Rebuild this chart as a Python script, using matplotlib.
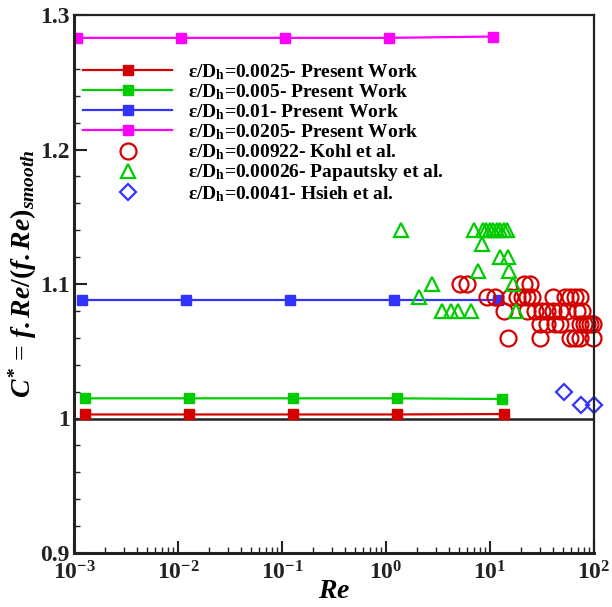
import matplotlib
matplotlib.use('Agg')
import matplotlib.pyplot as plt
from matplotlib.ticker import FixedLocator, FixedFormatter, MultipleLocator, LogLocator, NullFormatter

plt.rcParams['font.family'] = 'Liberation Serif'
plt.rcParams['font.weight'] = 'bold'
plt.rcParams['mathtext.fontset'] = 'custom'
plt.rcParams['mathtext.rm'] = 'Liberation Serif:bold'
plt.rcParams['mathtext.it'] = 'Liberation Serif:bold:italic'
plt.rcParams['mathtext.bf'] = 'Liberation Serif:bold'

# Present work (simulations)
re_red = [0.00127, 0.0127, 0.127, 1.27, 13.5]
c_red = [1.003, 1.003, 1.003, 1.003, 1.0033]
re_green = [0.00127, 0.0127, 0.127, 1.27, 13.0]
c_green = [1.015, 1.015, 1.015, 1.015, 1.0145]
re_blue = [0.0012, 0.012, 0.12, 1.2, 11.9]
c_blue = [1.088, 1.088, 1.088, 1.088, 1.088]
re_mag = [0.00107, 0.0107, 0.107, 1.07, 10.7]
c_mag = [1.283, 1.283, 1.283, 1.283, 1.284]

# Kohl et al.
re_kohl = [5.1, 6.0, 21, 24.5,
           9.3, 11.1, 15.6, 18.0, 20.2, 22.5, 25.3, 40, 52.7, 59, 66, 74,
           13.6, 22.5, 27, 31.4, 35.1, 40.6, 47.1, 54.6, 68.1, 76.2,
           30.3, 35.1, 42.2, 47.1, 73.3, 80, 85, 92, 98.5,
           14.8, 30.3, 58.7, 65.6, 73.3, 98]
c_kohl = [1.10] * 4 + [1.09] * 12 + [1.08] * 10 + [1.07] * 9 + [1.06] * 6

# Papautsky et al.
re_pap = [1.38, 6.97, 8.6, 9.2, 10.0, 10.8, 11.7, 12.6, 13.5, 14.6,
          8.4, 12.5, 14.8, 7.67, 15.3, 2.75, 16.5, 2.07,
          3.45, 4.19, 4.96, 6.52, 17.8]
c_pap = [1.14] * 10 + [1.13, 1.12, 1.12, 1.11, 1.11, 1.10, 1.10, 1.09,
                       1.08, 1.08, 1.08, 1.08, 1.08]

# Hsieh et al.
re_hsieh = [51.9, 75, 100]
c_hsieh = [1.02, 1.01, 1.01]

x_ticks = [1e-3, 1e-2, 1e-1, 1e0, 1e1, 1e2]
x_labels = [r'$\mathrm{10^{-3}}$', r'$\mathrm{10^{-2}}$', r'$\mathrm{10^{-1}}$',
            r'$\mathrm{10^{0}}$', r'$\mathrm{10^{1}}$', r'$\mathrm{10^{2}}$']
y_ticks = [0.9, 1.0, 1.1, 1.2, 1.3]
y_labels = ['0.9', '1', '1.1', '1.2', '1.3']

fig = plt.figure(figsize=(6.12, 6.07), dpi=100)
ax = fig.add_axes([74 / 612, 1 - 553 / 607, 520 / 612, 538 / 607])

ax.axhline(1.0, color='#222222', lw=1.8, zorder=1)

ms = 7.5
ax.plot(re_red, c_red, '-s', color='#d40000', lw=1.6, ms=ms, label=r'ε/D$_{\mathrm{h}}$=0.0025- Present Work')
ax.plot(re_green, c_green, '-s', color='#00cc00', lw=1.6, ms=ms, label=r'ε/D$_{\mathrm{h}}$=0.005- Present Work')
ax.plot(re_blue, c_blue, '-s', color='#3333ff', lw=1.6, ms=ms, label=r'ε/D$_{\mathrm{h}}$=0.01- Present Work')
ax.plot(re_mag, c_mag, '-s', color='#ff00ff', lw=1.6, ms=ms, label=r'ε/D$_{\mathrm{h}}$=0.0205- Present Work')
ax.plot(re_kohl, c_kohl, 'o', mfc='none', mec='#d40000', mew=1.6, ms=11.5, clip_on=False,
        label=r'ε/D$_{\mathrm{h}}$=0.00922- Kohl et al.')
ax.plot(re_pap, c_pap, '^', mfc='none', mec='#00cc00', mew=1.6, ms=10, clip_on=False,
        label=r'ε/D$_{\mathrm{h}}$=0.00026- Papautsky et al.')
ax.plot(re_hsieh, c_hsieh, 'D', mfc='none', mec='#3333ff', mew=1.6, ms=8.5, clip_on=False,
        label=r'ε/D$_{\mathrm{h}}$=0.0041- Hsieh et al.')

ax.set_xscale('log')
ax.set_xlim(1e-3, 1e2)
ax.set_ylim(0.9, 1.3)
ax.xaxis.set_major_locator(FixedLocator(x_ticks))
ax.xaxis.set_major_formatter(FixedFormatter(x_labels))
ax.xaxis.set_minor_locator(LogLocator(base=10, subs=range(2, 10), numticks=20))
ax.xaxis.set_minor_formatter(NullFormatter())
ax.set_yticks(y_ticks)
ax.set_yticklabels(y_labels)
ax.yaxis.set_minor_locator(MultipleLocator(0.02))

ax.tick_params(which='both', direction='in', top=False, right=False, labelsize=17, colors='#222222')
ax.tick_params(which='major', length=9, width=1.5, pad=6)
ax.tick_params(which='minor', length=4.5, width=1.0)
ax.tick_params(axis='y', pad=3)

for side in ['left', 'bottom']:
    ax.spines[side].set_linewidth(2.2)
for side in ['top', 'right']:
    ax.spines[side].set_linewidth(1.6)
for s in ax.spines.values():
    s.set_color('#222222')

ax.set_xlabel(r'$Re$', fontsize=20, labelpad=-4)
ax.set_ylabel(r'$C^{*}$ = $f.Re/(f.Re)_{smooth}$', fontsize=20)
ax.yaxis.set_label_coords(-0.068, 0.52)

ax.legend(loc='upper left', bbox_to_anchor=(9 / 520, 1 - 47 / 538), frameon=False,
          fontsize=14, handlelength=4.6, handletextpad=0.8, labelspacing=0.02,
          borderpad=0, borderaxespad=0)

fig.savefig('out.png', dpi=100, facecolor='white')
